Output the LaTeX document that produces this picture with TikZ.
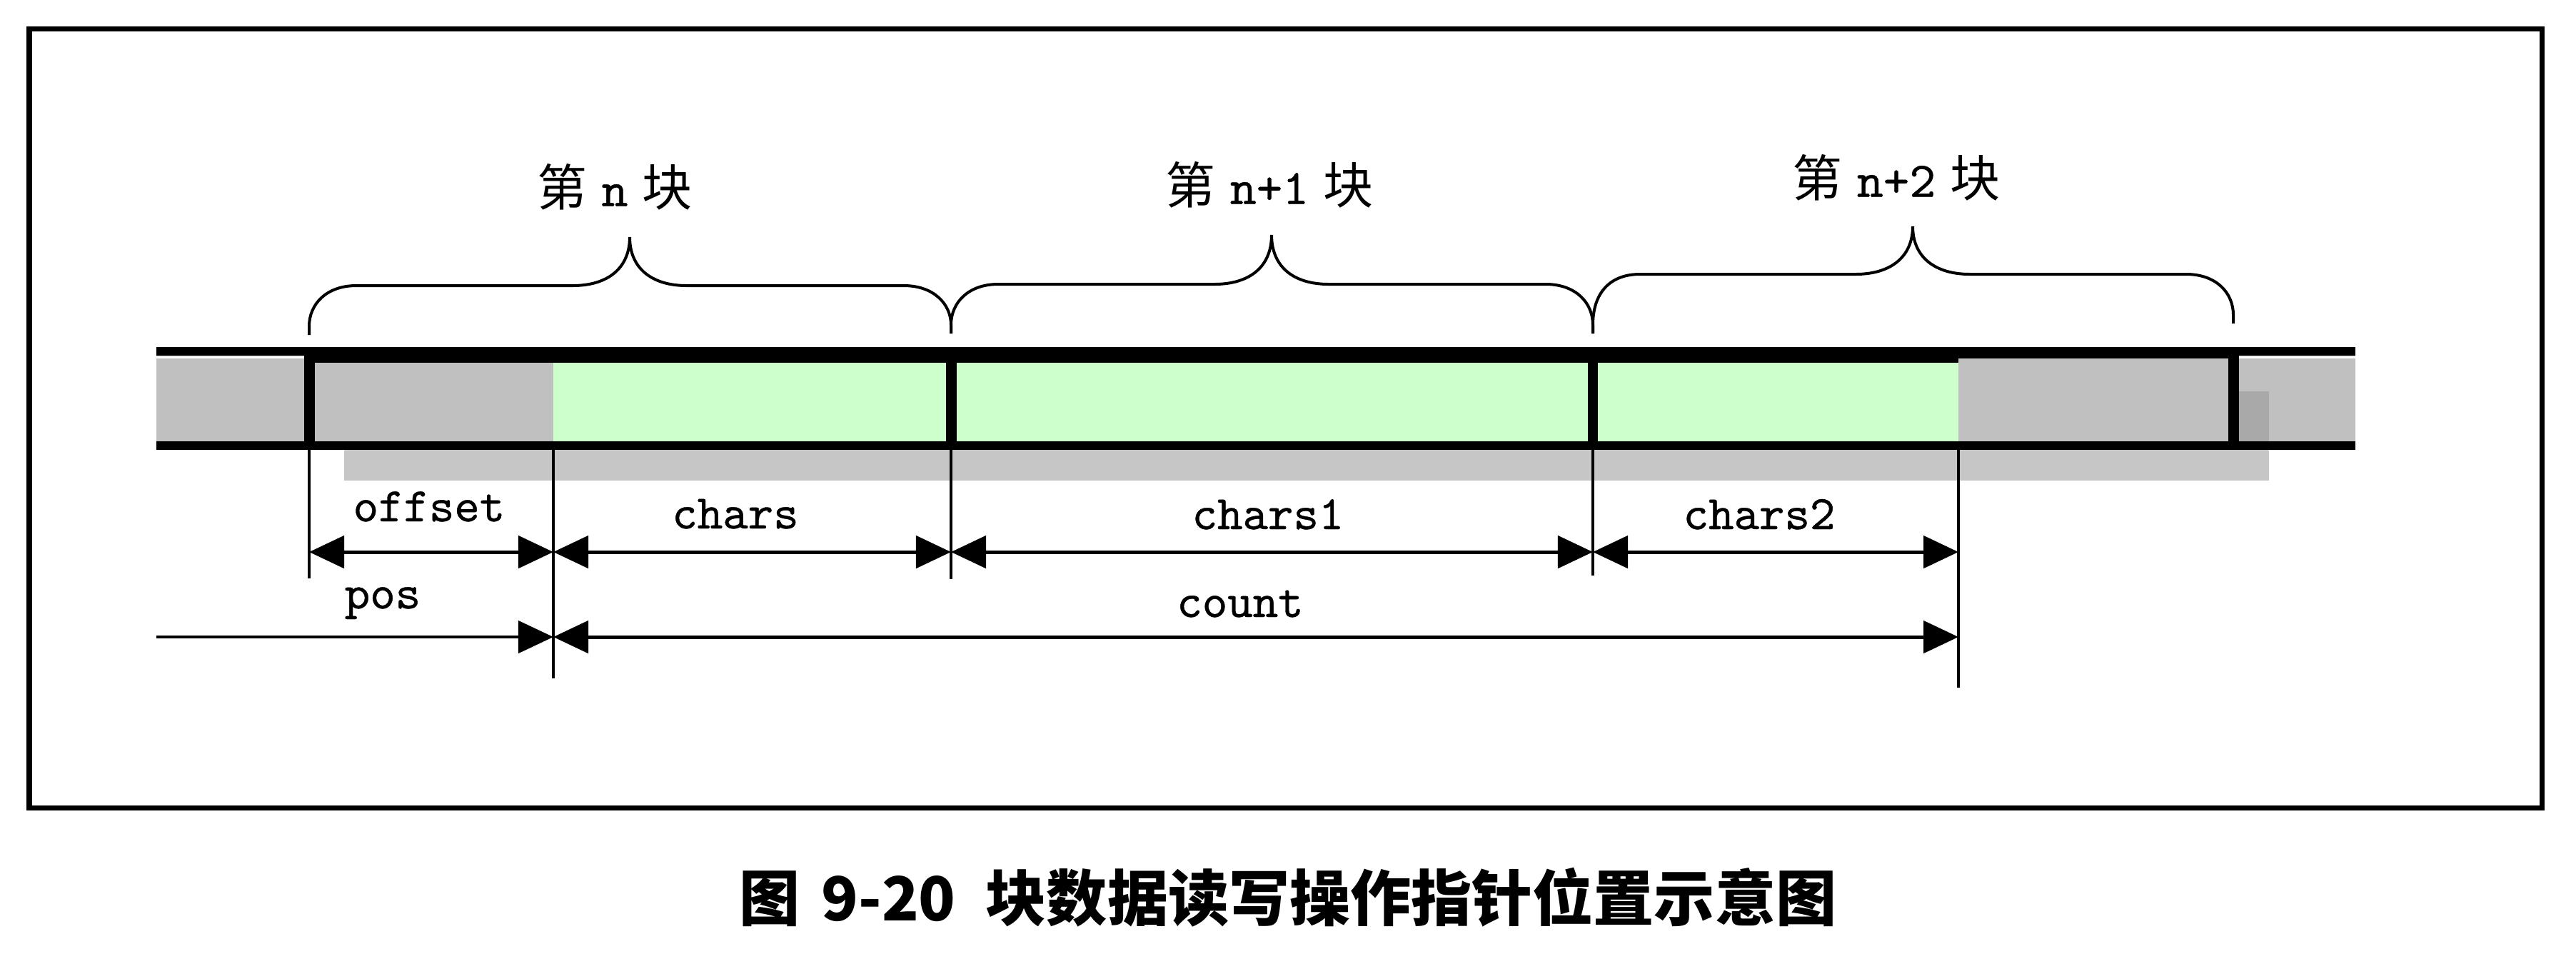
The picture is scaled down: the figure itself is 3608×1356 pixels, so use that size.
\documentclass[tikz,border=0pt]{standalone}
\usepackage{fontspec}
\newfontfamily\cjk{Noto Sans CJK SC}
\newfontface\lblmono{lmmono10-regular.otf}[FakeBold=0.6]
\usetikzlibrary{arrows.meta}
\definecolor{bandgray}{HTML}{C0C0C0}
\definecolor{bandgreen}{HTML}{CCFFCC}
\definecolor{shadowlt}{HTML}{C6C6C6}
\definecolor{shadowdk}{HTML}{A9A9A9}
\newcommand\blkbrace[7]{%
  \draw[bracestyle] (#1,#4) -- (#1,#4-12)
    .. controls (#1,#6+26) and (#1+24,#6) .. (#1+66,#6)
    -- (#2-80,#6)
    .. controls (#2-30,#6) and (#2,#6-25) .. (#2,#7)
    .. controls (#2,#6-25) and (#2+30,#6) .. (#2+80,#6)
    -- (#3-66,#6)
    .. controls (#3-24,#6) and (#3,#6+26) .. (#3,#5-12) -- (#3,#5);}
\begin{document}
\begin{tikzpicture}[x=0.01cm,y=-0.01cm,
  bracestyle/.style={line width=0.04cm},
  extline/.style={line width=0.045cm},
  dimboth/.style={line width=0.05cm,
    {Triangle[length=0.49cm,width=0.45cm]}-{Triangle[length=0.49cm,width=0.45cm]}},
  dimend/.style={line width=0.045cm,
    -{Triangle[length=0.49cm,width=0.45cm]}},
  lbl/.style={inner sep=0pt, font=\fontsize{19.2pt}{23pt}\selectfont\lblmono},
  blk/.style={inner sep=0pt, font=\fontsize{19.9pt}{24pt}\selectfont\cjk},
  captext/.style={inner sep=0pt, font=\fontsize{24.2pt}{29pt}\selectfont\cjk\bfseries}]
\useasboundingbox (0,0) rectangle (3608,1356);
\fill[white] (0,0) rectangle (3608,1356);
% frame
\draw[line width=0.07cm] (41,40) rectangle (3560,1131);
% shadow
\fill[shadowlt] (482,625) rectangle (3178,673);
% band
\fill[bandgray] (219,498) rectangle (3299,625);
\fill[shadowdk] (3136,548) rectangle (3178,620);
\fill[bandgreen] (775,508) rectangle (2743,618);
\draw[white,line width=0.03cm] (219,500) -- (426,500);
\draw[white,line width=0.03cm] (3136,500) -- (3299,500);
\fill[black] (219,486) rectangle (3299,498);
\fill[black] (426,498) rectangle (2743,508);
\fill[black] (2743,498) rectangle (3128,502);
\fill[black] (219,618) rectangle (3299,630);
% block bars
\fill[black] (426,486) rectangle (441,630);
\fill[black] (1325,486) rectangle (1340,630);
\fill[black] (2224,486) rectangle (2238,630);
\fill[black] (3121,486) rectangle (3136,630);
% braces
\blkbrace{433}{882}{1332}{469}{467}{400}{332}
\blkbrace{1332}{1781}{2231}{467}{467}{398}{329}
\blkbrace{2231}{2679}{3128}{467}{453}{384}{317}
% block labels
\node[blk] (bn)  at (861,262)  {第\hspace{0.2cm}{\lblmono n}\hspace{0.2cm}块};
\node[blk] (bn1) at (1778,259) {第\hspace{0.2cm}{\lblmono n+1}\hspace{0.2cm}块};
\node[blk] (bn2) at (2656,249) {第\hspace{0.2cm}{\lblmono n+2}\hspace{0.2cm}块};
% extension lines
\coordinate (t0) at (433,630);  \coordinate (e0) at (433,810);
\coordinate (t1) at (775,630);  \coordinate (e1) at (775,950);
\coordinate (t2) at (1332,630); \coordinate (e2) at (1332,811);
\coordinate (t3) at (2231,630); \coordinate (e3) at (2231,806);
\coordinate (t4) at (2743,630); \coordinate (e4) at (2743,963);
\draw[extline] (t0) -- (e0);
\draw[extline] (t1) -- (e1);
\draw[extline] (t2) -- (e2);
\draw[extline] (t3) -- (e3);
\draw[extline] (t4) -- (e4);
% dimension rows
\coordinate (r1) at (0,773);
\coordinate (r2) at (0,892);
\coordinate (ps) at (219,892);
\draw[dimboth] (t0 |- r1) -- (t1 |- r1);
\draw[dimboth] (t1 |- r1) -- (t2 |- r1);
\draw[dimboth] (t2 |- r1) -- (t3 |- r1);
\draw[dimboth] (t3 |- r1) -- (t4 |- r1);
\draw[dimend] (ps) -- (t1 |- r2);
\draw[dimboth] (t1 |- r2) -- (t4 |- r2);
% dimension labels
\node[lbl,anchor=base] (loff) at (601,730) {offset};
\node[lbl,anchor=base] (lch)  at (1030,740) {chars};
\node[lbl,anchor=base] (lch1) at (1776,741) {chars1};
\node[lbl,anchor=base] (lch2) at (2464,741) {chars2};
\node[lbl,anchor=base] (lpos) at (536,852) {pos};
\node[lbl,anchor=base] (lcnt) at (1737,864) {count};
% caption
\node[captext] (captxt) at (1804,1257) {图\hspace{0.3cm}9-20\hspace{0.42cm}块数据读写操作指针位置示意图};
\end{tikzpicture}
\end{document}
